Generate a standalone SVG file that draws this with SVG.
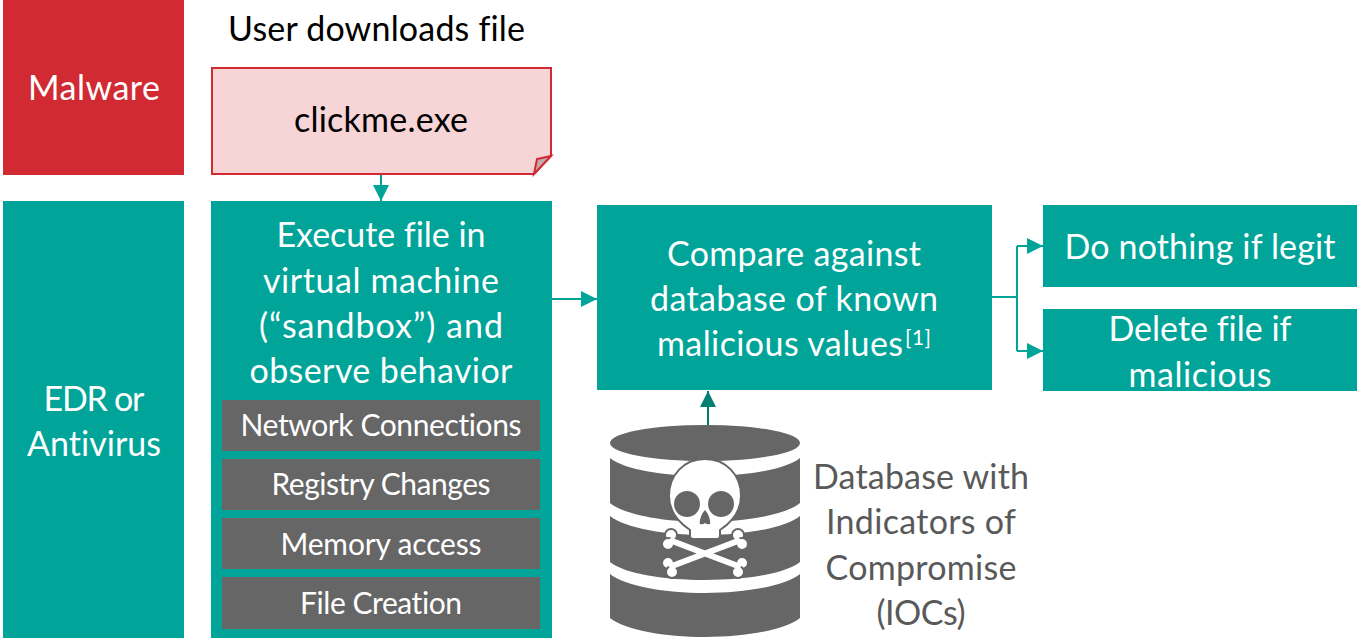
<svg xmlns="http://www.w3.org/2000/svg" width="1357" height="638" viewBox="0 0 1357 638">
<style>
text{font-family:"Lato","Open Sans","Liberation Sans",sans-serif;text-anchor:middle;font-variant-ligatures:none}
.w{fill:#fff}.t{fill:#00a499}.g{fill:#666}.gt{fill:#595959}
.l{font-size:34px}.m{font-size:30px}
.c{fill:none;stroke:#00a499;stroke-width:2}
.bo{stroke:#666;stroke-width:10;stroke-linecap:round;fill:none}
.bw{stroke:#fff;stroke-width:6;stroke-linecap:round;fill:none}
.lo{fill:#fff;stroke:#666;stroke-width:2}
</style>
<defs>
<marker id="a" markerUnits="userSpaceOnUse" markerWidth="16" markerHeight="16" refX="16" refY="8" orient="auto"><path d="M0 0L16 8L0 16Z" fill="#00a499"/></marker>
<marker id="b" markerUnits="userSpaceOnUse" markerWidth="16" markerHeight="16" refX="16" refY="8" orient="auto"><path d="M0 0L16 8L0 16Z" fill="#007f73"/></marker>
</defs>
<rect width="1357" height="638" fill="#fff"/>
<g id="connectors">
<path class="c" d="M381 174V201" marker-end="url(#a)"/>
<path class="c" d="M552 299H597" marker-end="url(#a)"/>
<path class="c" d="M992 297H1017M1017 246V351"/>
<path class="c" d="M1017 246H1043" marker-end="url(#a)"/>
<path class="c" d="M1017 351H1043" marker-end="url(#a)"/>
<path d="M708 426V391" fill="none" stroke="#007f73" stroke-width="2" marker-end="url(#b)"/>
</g>
<g id="malware"><rect x="3" width="181" height="175" fill="#d12a33"/><text class="l w" x="94" y="100" textLength="132">Malware</text></g>
<g id="download-label"><text class="l" x="376.500" y="41" fill="#000" textLength="297">User downloads file</text></g>
<g id="clickme">
<path d="M212 68H551V156L534 174H212Z" fill="#f7d4d6" stroke="#d12a33" stroke-width="2"/>
<path d="M534 174L537 159L551 156Z" fill="#c4a9ab" stroke="#d12a33" stroke-width="2"/>
<text class="l" x="381" y="132" fill="#000" textLength="174">clickme.exe</text></g>
<g id="edr"><rect x="3" y="201" width="181" height="437" class="t"/><text class="l w" x="94" y="411" textLength="101">EDR or</text><text class="l w" x="94" y="456" textLength="134">Antivirus</text></g>
<g id="execute"><rect x="211" y="201" width="341" height="437" class="t"/>
<text class="l w" x="381" y="247" textLength="209">Execute file in</text><text class="l w" x="381" y="293" textLength="236">virtual machine</text><text class="l w" x="381" y="338" textLength="244">(“sandbox”) and</text><text class="l w" x="381" y="383" textLength="263">observe behavior</text></g>
<g id="network"><rect x="222" y="400" width="318" height="51" class="g"/><text class="m w" x="381" y="436" textLength="281">Network Connections</text></g>
<g id="registry"><rect x="222" y="459" width="318" height="51" class="g"/><text class="m w" x="381" y="495" textLength="219">Registry Changes</text></g>
<g id="memory"><rect x="222" y="518" width="318" height="51" class="g"/><text class="m w" x="381" y="555" textLength="201">Memory access</text></g>
<g id="filecreation"><rect x="222" y="577" width="318" height="52" class="g"/><text class="m w" x="381" y="614" textLength="162">File Creation</text></g>
<g id="compare"><rect x="597" y="205" width="395" height="185" class="t"/>
<text class="l w" x="794" y="266" textLength="254">Compare against</text><text class="l w" x="794" y="311" textLength="288">database of known</text><text class="l w" x="780" y="356" textLength="246">malicious values</text><text class="w" x="918" y="345" font-size="21" textLength="26">[1]</text></g>
<g id="legit"><rect x="1043" y="205" width="314" height="82" class="t"/><text class="l w" x="1200" y="259" textLength="271">Do nothing if legit</text></g>
<g id="delete"><rect x="1043" y="309" width="314" height="82" class="t"/><text class="l w" x="1200" y="341" textLength="183">Delete file if</text><text class="l w" x="1200" y="387" textLength="143">malicious</text></g>
<g id="database">
<ellipse cx="705" cy="443" rx="95" ry="18" class="g"/>
<path class="g" d="M610 458C625 470 665 476 705 476S785 470 800 458V503C785 515 745 522 705 522S625 515 610 503Z"/>
<path class="g" d="M610 516C625 528 665 535 705 535S785 528 800 516V562C785 574 745 580 705 580S625 574 610 562Z"/>
<path class="g" d="M610 574C625 586 665 593 705 593S785 586 800 574V618C785 630 745 637 705 637S625 630 610 618Z"/>
<g id="skull">
<path class="bo" d="M672 541L738 566M672 566L738 541"/>
<circle class="lo" cx="671" cy="535" r="6"/><circle class="lo" cx="668" cy="544" r="6"/>
<circle class="lo" cx="668" cy="563" r="6"/><circle class="lo" cx="672" cy="572" r="6"/>
<circle class="lo" cx="738" cy="535" r="6"/><circle class="lo" cx="742" cy="544" r="6"/>
<circle class="lo" cx="742" cy="563" r="6"/><circle class="lo" cx="738" cy="572" r="6"/>
<path class="bw" d="M672 541L738 566M672 566L738 541"/>
<path d="M705 459C684 459 669 475 669 496C669 512 678 522 690 530V536Q690 539 694 539H716Q720 539 720 536V530C732 522 741 512 741 496C741 475 726 459 705 459Z" fill="#fff" stroke="#666" stroke-width="2"/>
<circle cx="687" cy="504" r="13" class="g"/><circle cx="721" cy="504" r="13" class="g"/>
<path class="g" d="M705 510C701 514 699 522 700 524Q703 525 705 523Q707 525 710 524C711 522 709 514 705 510Z"/>
</g></g>
<g id="db-label">
<text class="l gt" x="921" y="489" textLength="216">Database with</text><text class="l gt" x="921" y="534" textLength="190">Indicators of</text><text class="l gt" x="921" y="580" textLength="191">Compromise</text><text class="l gt" x="921" y="625" textLength="89">(IOCs)</text></g>
</svg>
